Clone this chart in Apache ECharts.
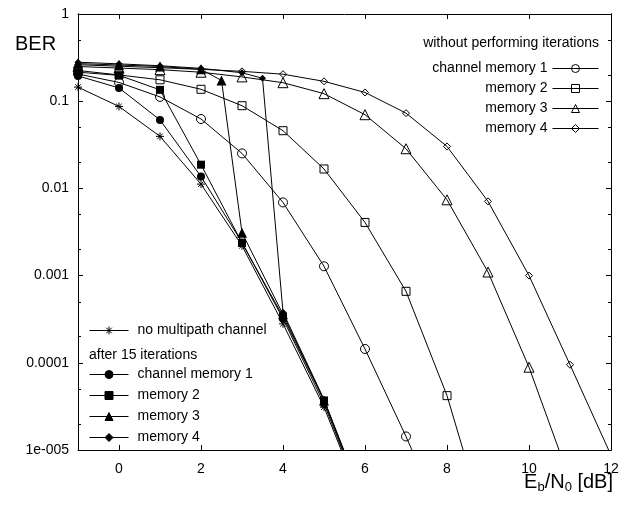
<!DOCTYPE html>
<html>
<head>
<meta charset="utf-8">
<script src="https://cdn.jsdelivr.net/npm/echarts@6/dist/echarts.min.js"></script>
<style>
  html, body { margin: 0; padding: 0; background: #fff; }
  #chart { width: 625px; height: 506px; }
</style>
</head>
<body>
<div id="chart"></div>
<script>
// Bit error rate versus Eb/N0, pairs of [Eb/N0 in dB, BER]

// without performing iterations
const memory1Plain = [[-1, 0.205], [0, 0.164], [1, 0.112], [2, 0.0625], [3, 0.0252], [4, 0.0069], [5, 0.00128], [6, 0.000144], [7, 0.0000143], [8, 0.0000012]];
const memory2Plain = [[-1, 0.225], [0, 0.2], [1, 0.176], [2, 0.137], [3, 0.0888], [4, 0.0459], [5, 0.0167], [6, 0.00407], [7, 0.00066], [8, 0.000042], [9, 0.0000011]];
const memory3Plain = [[-1, 0.25], [0, 0.24], [1, 0.23], [2, 0.215], [3, 0.19], [4, 0.163], [5, 0.122], [6, 0.07], [7, 0.0285], [8, 0.0074], [9, 0.0011], [10, 0.000089], [11, 0.0000045]];
const memory4Plain = [[-1, 0.262], [0, 0.252], [1, 0.242], [2, 0.232], [3, 0.22], [4, 0.204], [5, 0.169], [6, 0.126], [7, 0.073], [8, 0.0303], [9, 0.0071], [10, 0.001], [11, 0.000095], [12, 0.0000087]];

// reference without multipath, and after 15 iterations
const noMultipath = [[-1, 0.145], [0, 0.087], [1, 0.0395], [2, 0.0112], [3, 0.0022], [4, 0.00028], [5, 0.000031], [6, 0.0000021]];
const memory1Iter = [[-1, 0.195], [0, 0.142], [1, 0.061], [2, 0.0137], [3, 0.0024], [4, 0.00032], [5, 0.000034], [6, 0.0000022]];
const memory2Iter = [[-1, 0.215], [0, 0.198], [1, 0.135], [2, 0.0187], [3, 0.00237], [4, 0.00034], [5, 0.000037], [6, 0.0000023]];
const memory3Iter = [[-1, 0.27], [0, 0.26], [1, 0.25], [2, 0.232], [2.5, 0.173], [3, 0.0031], [4, 0.00036], [5, 0.000037], [6, 0.0000023]];
const memory4Iter = [[-1, 0.28], [0, 0.268], [1, 0.255], [2, 0.238], [3, 0.212], [3.5, 0.183], [4, 0.00038], [5, 0.000038], [6, 0.0000024]];

// axis ticks and labels
const xTicks = [0, 2, 4, 6, 8, 10, 12];
const yMajorTicks = [0.00001, 0.0001, 0.001, 0.01, 0.1, 1];
const yMinorTicks = [0.00002, 0.00005, 0.0002, 0.0005, 0.002, 0.005, 0.02, 0.05, 0.2, 0.5];
const yTickLabels = ['1e-005', '0.0001', '0.001', '0.01', '0.1', '1'];

// legend texts
const plainLabels = ['channel memory 1', 'memory 2', 'memory 3', 'memory 4'];
const iterLabels = ['channel memory 1', 'memory 2', 'memory 3', 'memory 4'];
const refLabel = 'no multipath channel';

const FONT = '"Liberation Sans", Arial, Helvetica, sans-serif';
const INK = '#000';
const ASTERISK = 'path://M0,5L10,5M5,0L5,10M1.5,1.5L8.5,8.5M1.5,8.5L8.5,1.5';

function curve(id, data, symbol, size, filled) {
  return {
    type: 'line',
    name: id,
    data: data,
    symbol: symbol,
    symbolSize: size,
    showAllSymbol: true,
    clip: true,
    lineStyle: { color: INK, width: 1 },
    itemStyle: filled
      ? { color: INK, borderColor: INK, borderWidth: 0 }
      : { color: 'rgba(255,255,255,0)', borderColor: INK, borderWidth: 1 },
    emphasis: { disabled: true },
    animation: false
  };
}

const series = [
  curve('p1', memory1Plain, 'circle', 9, false),
  curve('p2', memory2Plain, 'rect', 8, false),
  curve('p3', memory3Plain, 'triangle', 10, false),
  curve('p4', memory4Plain, 'diamond', 7, false),
  Object.assign(curve('ref', noMultipath, ASTERISK, 8, false), {
    itemStyle: { color: INK, borderColor: INK, borderWidth: 1 }
  }),
  curve('i1', memory1Iter, 'circle', 8, true),
  curve('i2', memory2Iter, 'rect', 8, true),
  curve('i3', memory3Iter, 'triangle', 10, true),
  curve('i4', memory4Iter, 'diamond', 7, true)
];

const nameText = {
  p1: plainLabels[0], p2: plainLabels[1], p3: plainLabels[2], p4: plainLabels[3],
  ref: refLabel,
  i1: iterLabels[0], i2: iterLabels[1], i3: iterLabels[2], i4: iterLabels[3]
};

const axisLine = { show: true, onZero: false, lineStyle: { color: INK, width: 1 } };
const tickLine = { color: INK, width: 1 };

function yAxisOf(position, ticks, len, withLabels) {
  return {
    type: 'log',
    logBase: 10,
    min: 0.00001,
    max: 1,
    position: position,
    axisLine: axisLine,
    axisTick: { show: true, inside: true, length: len, customValues: ticks, lineStyle: tickLine },
    axisLabel: withLabels
      ? {
          show: true,
          customValues: yMajorTicks,
          margin: 9,
          fontSize: 14,
          fontFamily: FONT,
          color: INK,
          formatter: function (v) {
            const k = Math.round(Math.log10(v)) + 5;
            return yTickLabels[k];
          }
        }
      : { show: false },
    splitLine: { show: false },
    minorTick: { show: false },
    minorSplitLine: { show: false }
  };
}

function xAxisOf(position, withLabels) {
  return {
    type: 'value',
    min: -1,
    max: 12,
    position: position,
    axisLine: axisLine,
    axisTick: { show: true, inside: true, length: 5, customValues: xTicks, lineStyle: tickLine },
    axisLabel: withLabels
      ? { show: true, customValues: xTicks, margin: 12, fontSize: 14, fontFamily: FONT, color: INK }
      : { show: false },
    splitLine: { show: false }
  };
}

const legendCommon = {
  orient: 'vertical',
  padding: 0,
  itemHeight: 10,
  itemGap: 6,
  selectedMode: false,
  formatter: function (name) { return nameText[name]; },
  lineStyle: { width: 1, color: INK },
  itemStyle: { borderWidth: 1, borderColor: INK },
  textStyle: { fontSize: 14, fontFamily: FONT, color: INK }
};

const chart = echarts.init(document.getElementById('chart'), null, { renderer: 'canvas' });

chart.setOption({
  backgroundColor: '#fff',
  animation: false,
  grid: { left: 78, right: 14, top: 14, bottom: 56, containLabel: false },
  xAxis: [xAxisOf('bottom', true), xAxisOf('top', false)],
  yAxis: [
    yAxisOf('left', yMajorTicks, 5, true),
    yAxisOf('left', yMinorTicks, 3, false),
    yAxisOf('right', yMajorTicks, 5, false),
    yAxisOf('right', yMinorTicks, 3, false)
  ],
  legend: [
    Object.assign({}, legendCommon, {
      data: ['p1', 'p2', 'p3', 'p4'],
      right: 26,
      top: 61.5,
      align: 'right',
      itemWidth: 46
    }),
    Object.assign({}, legendCommon, {
      data: ['ref'],
      left: 89,
      top: 323.5,
      align: 'left',
      itemWidth: 39,
      textStyle: { fontSize: 14, fontFamily: FONT, color: INK, padding: [0, 0, 0, 4] }
    }),
    Object.assign({}, legendCommon, {
      data: ['i1', 'i2', 'i3', 'i4'],
      left: 89,
      top: 367.5,
      align: 'left',
      itemWidth: 39,
      itemGap: 7,
      textStyle: { fontSize: 14, fontFamily: FONT, color: INK, padding: [0, 0, 0, 4] }
    })
  ],
  graphic: [
    {
      type: 'text', x: 15, y: 44,
      style: { text: 'BER', fontSize: 20, fontFamily: FONT, fill: INK, align: 'left', verticalAlign: 'middle' }
    },
    {
      type: 'text', x: 599, y: 43,
      style: { text: 'without performing iterations', fontSize: 14, fontFamily: FONT, fill: INK, align: 'right', verticalAlign: 'middle' }
    },
    {
      type: 'text', x: 89, y: 355,
      style: { text: 'after 15 iterations', fontSize: 14, fontFamily: FONT, fill: INK, align: 'left', verticalAlign: 'middle' }
    },
    {
      type: 'text', x: 613, y: 482,
      style: {
        text: '{m|E}{s|b}{m|/N}{s|0}{m| [dB]}',
        align: 'right',
        verticalAlign: 'middle',
        fill: INK,
        rich: {
          m: { fontSize: 20, fontFamily: FONT, fill: INK, lineHeight: 24, verticalAlign: 'middle' },
          s: { fontSize: 13, fontFamily: FONT, fill: INK, lineHeight: 12, verticalAlign: 'bottom' }
        }
      }
    }
  ],
  series: series
});
</script>
</body>
</html>
